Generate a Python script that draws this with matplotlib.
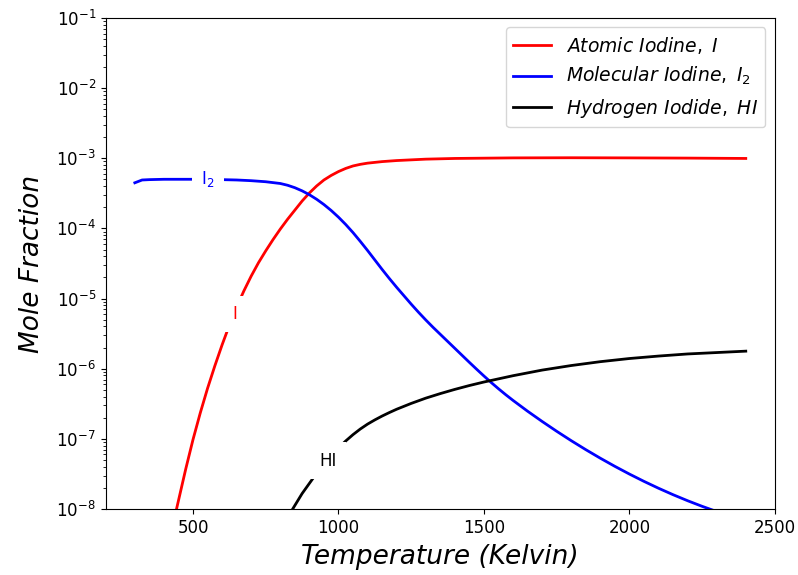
import numpy as np
import matplotlib
matplotlib.use("Agg")
import matplotlib.pyplot as plt
from matplotlib.ticker import LogLocator, NullFormatter

# Mole fractions are tabulated as log10 values.

# Atomic iodine, I
T_I = [425, 450, 475, 500, 525, 550, 575, 600, 625, 650, 675, 700, 725, 750, 775,
       800, 825, 850, 875, 900, 925, 950, 975, 1000, 1025, 1050, 1075, 1100, 1150,
       1200, 1300, 1400, 1600, 1800, 2000, 2200, 2400]
LOG_I = [-8.33, -7.88, -7.43, -7.01, -6.63, -6.28, -5.96, -5.66, -5.38, -5.12,
         -4.89, -4.68, -4.49, -4.32, -4.16, -4.01, -3.87, -3.74, -3.61, -3.495,
         -3.395, -3.31, -3.245, -3.19, -3.145, -3.11, -3.087, -3.07, -3.048,
         -3.033, -3.013, -3.003, -2.995, -2.993, -2.995, -2.998, -3.003]

# Molecular iodine, I2
T_I2 = [300, 325, 350, 400, 500, 600, 650, 700, 750, 800, 825, 850, 875, 900, 925,
        950, 975, 1000, 1025, 1050, 1075, 1100, 1125, 1150, 1175, 1200, 1225, 1250,
        1275, 1300, 1325, 1350, 1375, 1400, 1425, 1450, 1475, 1500, 1525, 1550,
        1575, 1600, 1650, 1700, 1750, 1800, 1850, 1900, 1950, 2000, 2050, 2100,
        2150, 2200, 2250, 2300, 2400]
LOG_I2 = [-3.35, -3.31, -3.305, -3.30, -3.30, -3.305, -3.31, -3.32, -3.335, -3.36,
          -3.385, -3.42, -3.465, -3.52, -3.585, -3.66, -3.745, -3.84, -3.945,
          -4.06, -4.185, -4.315, -4.45, -4.585, -4.715, -4.84, -4.96, -5.08,
          -5.195, -5.305, -5.41, -5.51, -5.61, -5.71, -5.81, -5.91, -6.008,
          -6.104, -6.197, -6.286, -6.371, -6.452, -6.606, -6.752, -6.892, -7.026,
          -7.154, -7.276, -7.392, -7.502, -7.606, -7.704, -7.796, -7.882, -7.962,
          -8.036, -8.18]

# Hydrogen iodide, HI
T_HI = [825, 850, 875, 900, 925, 950, 975, 1000, 1025, 1050, 1075, 1100, 1125,
        1150, 1175, 1200, 1250, 1300, 1350, 1400, 1450, 1500, 1600, 1700, 1800,
        1900, 2000, 2100, 2200, 2300, 2400]
LOG_HI = [-8.12, -7.95, -7.78, -7.635, -7.49, -7.36, -7.24, -7.13, -7.03, -6.94,
          -6.86, -6.79, -6.73, -6.675, -6.625, -6.578, -6.495, -6.42, -6.355,
          -6.295, -6.24, -6.19, -6.10, -6.02, -5.955, -5.90, -5.855, -5.82,
          -5.79, -5.77, -5.75]

# Inline label anchors (temperature, log10 mole fraction)
LBL_I = (644, -5.22)
LBL_I2 = (552, -3.30)
LBL_HI = (964, -7.31)

fig = plt.figure(figsize=(7.98, 5.75), dpi=100)
ax = fig.add_axes([0.1325, 0.1148, 0.8385, 0.854])

ax.plot(T_I, 10.0 ** np.array(LOG_I), color="red", lw=2,
        label=r"$Atomic\ Iodine,\ I$")
ax.plot(T_I2, 10.0 ** np.array(LOG_I2), color="blue", lw=2,
        label=r"$Molecular\ Iodine,\ I_2$")
ax.plot(T_HI, 10.0 ** np.array(LOG_HI), color="black", lw=2,
        label=r"$Hydrogen\ Iodide,\ HI$")

box = dict(boxstyle="square,pad=0.55", fc="white", ec="none")
for (t, lg), txt, col in [(LBL_I, "I", "red"), (LBL_I2, r"I$_2$", "blue"),
                          (LBL_HI, "HI", "black")]:
    ax.text(t, 10.0 ** lg, txt, color=col, fontsize=12, ha="center",
            va="center", bbox=box, zorder=5)

ax.set_yscale("log")
ax.set_xlim(200, 2500)
ax.set_ylim(1e-8, 1e-1)
ax.yaxis.set_minor_locator(LogLocator(base=10, subs=np.arange(2, 10), numticks=100))
ax.yaxis.set_minor_formatter(NullFormatter())
ax.tick_params(labelsize=12)

ax.set_xlabel("Temperature (Kelvin)", fontsize=19, style="italic", labelpad=5)
ax.set_ylabel("Mole Fraction", fontsize=19, style="italic", labelpad=8)

ax.legend(loc="upper right", fontsize=13.5)

fig.savefig("out.png", dpi=100)
